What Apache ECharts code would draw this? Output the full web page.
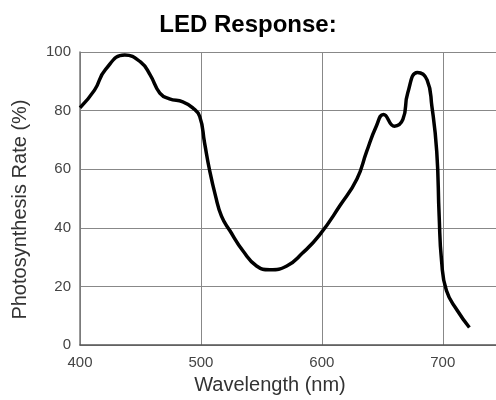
<!DOCTYPE html>
<html>
<head>
<meta charset="utf-8">
<script src="https://cdn.jsdelivr.net/npm/echarts@6/dist/echarts.min.js"></script>
<style>
html,body{margin:0;padding:0;background:#fff;}
#chart{width:496px;height:400px;}
</style>
</head>
<body>
<div id="chart"></div>
<script>
var titleText = "LED Response:";
var xAxisName = "Wavelength (nm)";
var yAxisName = "Photosynthesis Rate (%)";
var wavelength = [400, 412, 421, 437, 450, 458, 466, 474, 485, 493, 499, 503, 507, 512, 517, 524, 535, 546, 557, 571, 584, 598, 615, 629, 637, 645, 651, 660, 667, 671, 679, 687, 691, 695, 697, 699, 703, 712, 722];
var rate = [81, 87, 94, 99, 96.6, 92.2, 86, 84, 83, 81, 78, 69, 60, 51, 44, 39, 32, 27, 25.7, 27, 31.4, 37.5, 47.6, 56.7, 66, 74.7, 78.7, 74.7, 77, 86, 93, 90.5, 81.4, 66, 44, 28.7, 18.6, 11.8, 6];

var points = wavelength.map(function (w, i) { return [w, rate[i]]; });

var font = 'Arial, "Liberation Sans", sans-serif';
var chart = echarts.init(document.getElementById('chart'));
chart.setOption({
  animation: false,
  backgroundColor: '#fff',
  title: {
    text: titleText,
    left: 'center',
    top: 8,
    textStyle: { fontFamily: font, fontWeight: 'bold', fontSize: 24, color: '#000' }
  },
  grid: { left: 80, right: 0, top: 52, bottom: 52, containLabel: false },
  xAxis: {
    type: 'value', min: 400, max: 744, interval: 100,
    name: xAxisName, nameLocation: 'middle', nameGap: 27,
    nameTextStyle: { fontFamily: font, fontSize: 20, color: '#333', padding: [0, 36, 0, 0] },
    axisLine: { show: true, lineStyle: { color: '#555', width: 1.5 } },
    axisTick: { show: false },
    axisLabel: { showMaxLabel: false, margin: 10, fontFamily: font, fontSize: 15, color: '#444' },
    splitLine: { show: true, lineStyle: { color: '#888', width: 1 } }
  },
  yAxis: {
    type: 'value', min: 0, max: 100, interval: 20,
    name: yAxisName, nameLocation: 'middle', nameGap: 50, nameRotate: 90,
    nameTextStyle: { fontFamily: font, fontSize: 20, color: '#333', padding: [0, 22, 0, 0] },
    axisLine: { show: true, lineStyle: { color: '#777', width: 1.5 } },
    axisTick: { show: false },
    axisLabel: { margin: 9, fontFamily: font, fontSize: 15, color: '#444' },
    splitLine: { show: true, lineStyle: { color: '#888', width: 1 } }
  },
  series: [{
    type: 'line',
    data: points,
    smooth: 0.5,
    showSymbol: false,
    lineStyle: { color: '#000', width: 3.5 }
  }]
});
</script>
</body>
</html>
